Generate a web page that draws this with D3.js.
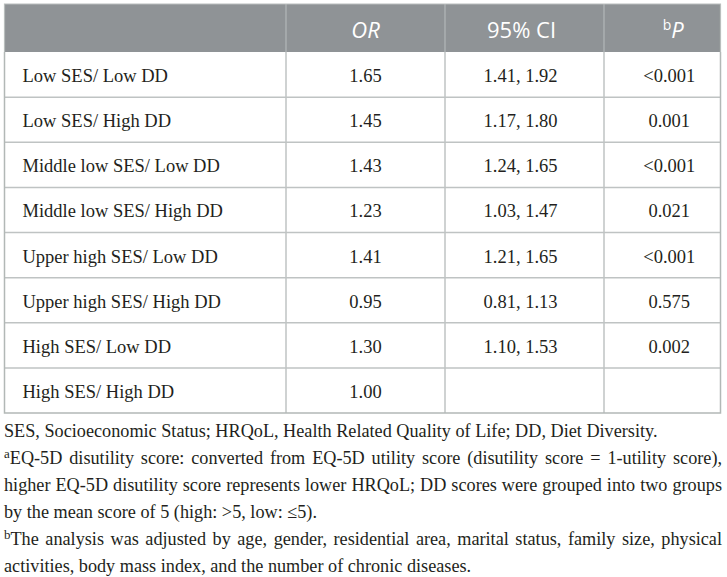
<!DOCTYPE html>
<html lang="en">
	<head>
		<meta charset="utf-8">
		<title>OR table</title>
		<script type="text/javascript" src="https://cdn.jsdelivr.net/npm/d3@7"></script>
		<style type="text/css">
			body { margin: 0; background: #fff; }
		</style>
	</head>
	<body>
		<script type="text/javascript">

			var rowLabels = ["Low SES/ Low DD", "Low SES/ High DD", "Middle low SES/ Low DD", "Middle low SES/ High DD",
				"Upper high SES/ Low DD", "Upper high SES/ High DD", "High SES/ Low DD", "High SES/ High DD"]
			var orValues = ["1.65", "1.45", "1.43", "1.23", "1.41", "0.95", "1.30", "1.00"]
			var ciValues = ["1.41, 1.92", "1.17, 1.80", "1.24, 1.65", "1.03, 1.47", "1.21, 1.65", "0.81, 1.13", "1.10, 1.53", ""]
			var pValues = ["<0.001", "0.001", "<0.001", "0.021", "<0.001", "0.575", "0.002", ""]
			var columns = ["label", "or", "ci", "p"]

			var footSup = ["", "a", "", "", "b", ""]
			var footText = [
				"SES, Socioeconomic Status; HRQoL, Health Related Quality of Life; DD, Diet Diversity.",
				"EQ-5D disutility score: converted from EQ-5D utility score (disutility score = 1-utility score),",
				"higher EQ-5D disutility score represents lower HRQoL; DD scores were grouped into two groups",
				"by the mean score of 5 (high: >5, low: \u22645).",
				"The analysis was adjusted by age, gender, residential area, marital status, family size, physical",
				"activities, body mass index, and the number of chronic diseases."
			]
			var footJustify = [false, true, true, false, true, false]

			var w = 727, h = 577
			var left = 4.5, right = 720.5, yTop = 4, headBottom = 52, tableBottom = 413

			var svg = d3.select("body").append("svg").attr("width", w).attr("height", h)

			var serif = "'Liberation Serif', 'Times New Roman', serif"
			var sans = "'Open Sans', 'Noto Sans', sans-serif"

			// column edges
			var xEdge = d3.scaleOrdinal().domain(columns.concat(["end"])).range([left, 286, 445, 604, right])
			var colEnd = function(c) { return xEdge(columns[columns.indexOf(c) + 1] || "end") }
			var colMid = function(c) { return (xEdge(c) + colEnd(c)) / 2 }

			var yscale = d3.scaleBand()
				.domain(d3.range(rowLabels.length))
				.range([headBottom, tableBottom])

			// header band
			svg.append("rect")
				.attr("x", left).attr("y", yTop)
				.attr("width", right - left).attr("height", headBottom - yTop)
				.attr("fill", "#8f9396")

			svg.selectAll(".hdiv")
				.data(columns.slice(1))
				.enter()
				.append("line")
				.attr("class", "hdiv")
				.attr("x1", function(d) { return xEdge(d) })
				.attr("x2", function(d) { return xEdge(d) })
				.attr("y1", yTop).attr("y2", headBottom)
				.attr("stroke", "#b3b7b9").attr("stroke-width", 1.2)

			var head = svg.append("g")
				.attr("font-family", sans).attr("font-size", "22px").attr("fill", "#fff")
				.attr("text-anchor", "middle")

			head.append("text")
				.attr("x", colMid("or")).attr("y", 38)
				.attr("font-style", "italic")
				.text("OR")
			head.append("text")
				.attr("x", colMid("ci") - 3).attr("y", 38)
				.text("95% CI")
			var ph = head.append("text")
				.attr("x", colMid("p") + 11).attr("y", 38)
			ph.append("tspan").attr("font-size", "14px").attr("dy", -8).text("b")
			ph.append("tspan").attr("font-style", "italic").attr("dy", 8).text("P")

			// grid
			svg.selectAll(".rline")
				.data(d3.range(1, rowLabels.length))
				.enter()
				.append("line")
				.attr("class", "rline")
				.attr("x1", left).attr("x2", right)
				.attr("y1", function(d) { return yscale(d) })
				.attr("y2", function(d) { return yscale(d) })
				.attr("stroke", "#bfc3c3").attr("stroke-width", 1.5)

			svg.selectAll(".cline")
				.data(columns.slice(1))
				.enter()
				.append("line")
				.attr("class", "cline")
				.attr("x1", function(d) { return xEdge(d) })
				.attr("x2", function(d) { return xEdge(d) })
				.attr("y1", headBottom).attr("y2", tableBottom)
				.attr("stroke", "#bfc3c3").attr("stroke-width", 1.5)

			svg.append("path")
				.attr("d", "M" + left + "," + headBottom + "V" + tableBottom + "H" + right + "V" + headBottom)
				.attr("fill", "none").attr("stroke", "#b2b8b6").attr("stroke-width", 1.5)
			svg.append("path")
				.attr("d", "M" + left + "," + headBottom + "V" + yTop + "H" + right + "V" + headBottom)
				.attr("fill", "none").attr("stroke", "#b9bebd").attr("stroke-width", 1.2)

			// body text
			var body = svg.append("g")
				.attr("font-family", serif).attr("font-size", "18.5px").attr("fill", "#231f20")

			body.selectAll(".lab")
				.data(rowLabels)
				.enter()
				.append("text")
				.attr("class", "lab")
				.attr("x", xEdge("label") + 18)
				.attr("y", function(d, i) { return yscale(i) + 30 })
				.text(function(d) { return d })

			body.selectAll(".or")
				.data(orValues)
				.enter()
				.append("text")
				.attr("class", "or")
				.attr("text-anchor", "middle")
				.attr("x", colMid("or"))
				.attr("y", function(d, i) { return yscale(i) + 30 })
				.text(function(d) { return d })

			body.selectAll(".ci")
				.data(ciValues)
				.enter()
				.append("text")
				.attr("class", "ci")
				.attr("text-anchor", "middle")
				.attr("x", colMid("ci") - 4)
				.attr("y", function(d, i) { return yscale(i) + 30 })
				.text(function(d) { return d })

			body.selectAll(".p")
				.data(pValues)
				.enter()
				.append("text")
				.attr("class", "p")
				.attr("text-anchor", "middle")
				.attr("x", colMid("p") + 7)
				.attr("y", function(d, i) { return yscale(i) + 30 })
				.text(function(d) { return d })

			// footnotes
			var fy = d3.scaleLinear().domain([0, 5]).range([437, 572])

			var foot = svg.append("g")
				.attr("font-family", serif).attr("font-size", "18px").attr("fill", "#231f20")

			var lines = foot.selectAll(".fn")
				.data(footText)
				.enter()
				.append("text")
				.attr("class", "fn")
				.attr("x", 4)
				.attr("y", function(d, i) { return fy(i) })

			lines.append("tspan")
				.attr("font-size", "13px").attr("dy", -6)
				.text(function(d, i) { return footSup[i] })
			lines.append("tspan")
				.attr("dy", function(d, i) { return footSup[i] ? 6 : 0 })
				.text(function(d) { return d })

			// size the first line to its width in the picture, justify the rest
			var first = lines.nodes()[0].getComputedTextLength()
			var fs = 18 * 654 / first
			foot.attr("font-size", fs + "px")
			lines.each(function(d, i) {
				if (!footJustify[i]) return
				var t = d3.select(this)
				var gap = (722 - 4) - this.getComputedTextLength()
				var spaces = d.split(" ").length - 1
				t.attr("word-spacing", gap / spaces)
			})

		</script>
	</body>
</html>
